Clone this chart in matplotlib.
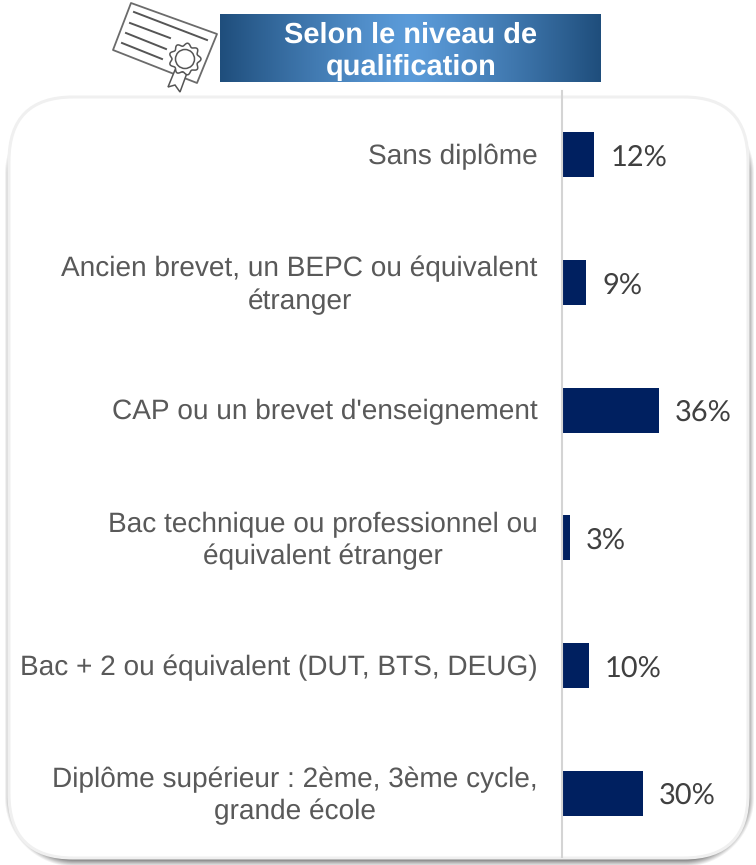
import numpy as np
import matplotlib
matplotlib.use("Agg")
import matplotlib.pyplot as plt
from matplotlib.patches import FancyBboxPatch, Rectangle, Circle, Polygon
from matplotlib.lines import Line2D
from matplotlib.transforms import ScaledTranslation

plt.rcParams["text.hinting"] = "no_hinting"
plt.rcParams["text.hinting_factor"] = 1

categories = [
    "Sans diplôme",
    "Ancien brevet, un BEPC ou équivalent\nétranger",
    "CAP ou un brevet d'enseignement",
    "Bac technique ou professionnel ou\néquivalent étranger",
    "Bac + 2 ou équivalent (DUT, BTS, DEUG)",
    "Diplôme supérieur : 2ème, 3ème cycle,\ngrande école",
]
values = [12, 9, 36, 3, 10, 30]
title = "Selon le niveau de\nqualification"

W, H = 756, 865
fig = plt.figure(figsize=(W / 100, H / 100), dpi=100, facecolor="white")

bg = fig.add_axes([0, 0, 1, 1], zorder=0)
bg.axis("off")

def rbox(x0, y0, x1, y1, r, **kw):
    p = FancyBboxPatch((x0 + r, y0 + r), x1 - x0 - 2 * r, y1 - y0 - 2 * r,
                       boxstyle=f"round,pad={r},rounding_size={r}", **kw)
    bg.add_patch(p)
    return p

# Soft shadow, from the signed distance to a rounded rectangle
xx, yy = np.meshgrid(np.arange(W) + 0.5, np.arange(H) + 0.5)
sx0, sy0, sx1, sy1, sr = 8.5, 108, 750.5, 863, 66
cx, cy = (sx0 + sx1) / 2, (sy0 + sy1) / 2
qx = np.abs(xx - cx) - ((sx1 - sx0) / 2 - sr)
qy = np.abs(yy - cy) - ((sy1 - sy0) / 2 - sr)
sd = np.hypot(np.maximum(qx, 0), np.maximum(qy, 0)) + np.minimum(np.maximum(qx, qy), 0) - sr
alpha = 0.72 * np.clip(0.5 - sd / 8, 0, 1) ** 1.1
shadow = np.zeros((H, W, 4))
shadow[..., :3] = 0.25
shadow[..., 3] = alpha
bg.imshow(shadow, extent=(0, W, H, 0), aspect="auto", zorder=1, interpolation="bilinear")
rbox(9, 97, 748, 858, 64, facecolor="white", edgecolor="#f0f0f0", linewidth=2.2, zorder=2)

# Title banner with gradient
t = np.abs(np.linspace(-1, 1, 256)) ** 1.25
c0 = np.array([0x5b, 0x9b, 0xd9]) / 255
c1 = np.array([0x1f, 0x4e, 0x7c]) / 255
grad = (c0[None, :] * (1 - t[:, None]) + c1[None, :] * t[:, None])[None, :, :]
bg.imshow(grad, extent=(220, 601, 82, 14), aspect="auto", zorder=3, interpolation="bilinear")
bg.set_xlim(0, W)
bg.set_ylim(H, 0)
banner = Rectangle((220, 14), 381, 68, transform=bg.transData, facecolor="none", edgecolor="none")
bg.add_patch(banner)
txt = bg.text(411, 51.5, title, ha="center", va="center", color="white", fontsize=21,
              fontweight="bold", family="Liberation Sans", linespacing=1.28, zorder=4)
txt.set_clip_path(banner)
txt.set_clip_on(True)

# Certificate icon
ic = "#555555"
corners = [(131, 3), (217, 34), (197, 83), (113, 50)]
bg.add_patch(Polygon(corners, closed=True, facecolor="white", edgecolor="#6b6b6b",
                     linewidth=1.3, joinstyle="round", zorder=3))
for (x0, y0, x1, y1) in [(134, 12, 207, 40), (130, 23, 170, 38), (126, 33, 166, 49), (122, 43, 162, 59)]:
    bg.add_line(Line2D([x0, x1], [y0, y1], color=ic, linewidth=1.4, zorder=4))
bg.add_patch(Polygon([(175, 70), (168, 87), (175, 85), (180, 92), (187, 73)], closed=True,
                     facecolor="white", edgecolor=ic, linewidth=1.1, zorder=4))
ang = np.linspace(0, 2 * np.pi, 121)
rad = 14.5 + 1.5 * np.cos(9 * ang)
bg.add_patch(Polygon(np.c_[185 + rad * np.cos(ang), 59 + rad * np.sin(ang)], closed=True,
                     facecolor="white", edgecolor=ic, linewidth=1.1, zorder=5))
bg.add_patch(Circle((185, 59), 9.5, facecolor="white", edgecolor=ic, linewidth=1.1, zorder=6))

# Chart
ax = fig.add_axes([562 / W, 1 - 857 / H, (W - 562) / W, (857 - 91) / H], zorder=5)
ax.patch.set_alpha(0)
y = np.arange(len(categories))
bars = ax.barh(y, values, height=45 / 127.67, color="#002060", linewidth=0)
ax.set_ylim(len(categories) - 0.5, -0.5)
ax.set_xlim(0, (W - 562) / 2.694)
for s in ["top", "right", "bottom"]:
    ax.spines[s].set_visible(False)
ax.spines["left"].set_color("#d4d4d4")
ax.spines["left"].set_linewidth(1.5)
ax.set_xticks([])
ax.set_yticks(y)
ax.set_yticklabels(categories, fontsize=20.2, family="Liberation Sans", color="#595959",
                   ha="right", multialignment="center", linespacing=1.29)
ax.tick_params(axis="y", length=0, pad=17.5)
for lab in ax.get_yticklabels():
    dy = 3 if "\n" in lab.get_text() else 1
    lab.set_transform(lab.get_transform() + ScaledTranslation(0, dy / 100, fig.dpi_scale_trans))
for v, yy_ in zip(values, y):
    ax.annotate(f"{v}%", (v, yy_), xytext=(11.5, -2), textcoords="offset points",
                va="center", ha="left", fontsize=20.6, family="Lato", color="#404040")

fig.savefig("out.png", dpi=100)
